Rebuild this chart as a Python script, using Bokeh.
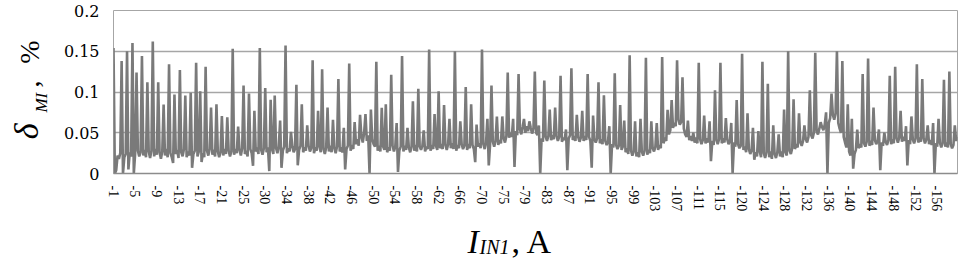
import math
from bokeh.plotting import figure
from bokeh.layouts import column, row
from bokeh.models import Range1d, FixedTicker, Label, NumeralTickFormatter
from bokeh.embed import file_html
from bokeh.resources import INLINE

# Category labels shown on the x axis (every 16th sample), I_IN1 in A
tick_labels = ["-1", "-5", "-9", "-13", "-17", "-21", "-25", "-30", "-34", "-38",
               "-42", "-46", "-50", "-54", "-58", "-62", "-66", "-70", "-75", "-79",
               "-83", "-87", "-91", "-95", "-99", "-103", "-107", "-111", "-115", "-120",
               "-124", "-128", "-132", "-136", "-140", "-144", "-148", "-152", "-156"]
label_step = 16

# delta_MI, % (one row = one labelled interval of 16 samples)
delta_mi = [
    0.154, 0.0, 0.004, 0.022, 0.018, 0.025, 0.138, 0.0, 0.020, 0.024, 0.150, 0.005, 0.026, 0.021, 0.160, 0.0,
    0.025, 0.124, 0.028, 0.021, 0.026, 0.144, 0.022, 0.029, 0.020, 0.112, 0.027, 0.019, 0.028, 0.162, 0.021, 0.030,
    0.023, 0.112, 0.026, 0.018, 0.027, 0.0845, 0.022, 0.030, 0.020, 0.134, 0.025, 0.020, 0.013, 0.097, 0.024, 0.029,
    0.019, 0.127, 0.026, 0.021, 0.030, 0.0956, 0.020, 0.027, 0.022, 0.099, 0.007, 0.024, 0.028, 0.136, 0.021, 0.027,
    0.101, 0.014, 0.025, 0.020, 0.131, 0.028, 0.022, 0.030, 0.081, 0.023, 0.029, 0.021, 0.085, 0.027, 0.020, 0.026,
    0.0706, 0.022, 0.030, 0.024, 0.069, 0.028, 0.021, 0.027, 0.153, 0.023, 0.030, 0.025, 0.0575, 0.029, 0.022, 0.031,
    0.108, 0.024, 0.028, 0.021, 0.098, 0.030, 0.025, 0.0095, 0.077, 0.027, 0.032, 0.024, 0.154, 0.029, 0.023, 0.031,
    0.105, 0.026, 0.032, 0.003, 0.0905, 0.030, 0.024, 0.0956, 0.031, 0.025, 0.033, 0.065, 0.007, 0.028, 0.033, 0.157,
    0.025, 0.031, 0.027, 0.051, 0.033, 0.026, 0.030, 0.109, 0.010, 0.029, 0.034, 0.085, 0.026, 0.032, 0.028, 0.059,
    0.034, 0.027, 0.031, 0.139, 0.025, 0.032, 0.028, 0.077, 0.033, 0.026, 0.128, 0.030, 0.024, 0.032, 0.081, 0.027,
    0.034, 0.026, 0.066, 0.031, 0.025, 0.033, 0.116, 0.027, 0.032, 0.026, 0.056, 0.005, 0.030, 0.034, 0.135, 0.028,
    0.035, 0.030, 0.063, 0.036, 0.042, 0.034, 0.072, 0.045, 0.038, 0.050, 0.073, 0.040, 0.047, 0.0, 0.0785, 0.042,
    0.036, 0.033, 0.137, 0.028, 0.034, 0.027, 0.0806, 0.033, 0.029, 0.085, 0.026, 0.032, 0.028, 0.121, 0.034, 0.027,
    0.033, 0.062, 0.002, 0.028, 0.033, 0.144, 0.027, 0.034, 0.029, 0.056, 0.032, 0.026, 0.033, 0.0885, 0.028, 0.035,
    0.027, 0.104, 0.033, 0.029, 0.034, 0.053, 0.027, 0.033, 0.030, 0.152, 0.028, 0.035, 0.030, 0.073, 0.034, 0.029,
    0.101, 0.031, 0.036, 0.030, 0.084, 0.035, 0.029, 0.036, 0.067, 0.031, 0.037, 0.030, 0.150, 0.028, 0.035, 0.031,
    0.064, 0.036, 0.030, 0.034, 0.106, 0.029, 0.036, 0.031, 0.085, 0.035, 0.030, 0.014, 0.060, 0.033, 0.037, 0.031,
    0.152, 0.036, 0.030, 0.038, 0.067, 0.010, 0.036, 0.108, 0.039, 0.033, 0.040, 0.070, 0.035, 0.041, 0.037, 0.070,
    0.043, 0.038, 0.046, 0.124, 0.044, 0.050, 0.045, 0.067, 0.008, 0.052, 0.047, 0.122, 0.054, 0.048, 0.057, 0.067,
    0.050, 0.058, 0.052, 0.064, 0.056, 0.049, 0.055, 0.125, 0.050, 0.047, 0.059, 0.0, 0.043, 0.039, 0.114, 0.045,
    0.040, 0.046, 0.0785, 0.041, 0.047, 0.042, 0.081, 0.046, 0.040, 0.045, 0.120, 0.039, 0.044, 0.041, 0.054, 0.004,
    0.043, 0.047, 0.129, 0.041, 0.046, 0.040, 0.072, 0.045, 0.039, 0.044, 0.077, 0.040, 0.046, 0.041, 0.122, 0.045,
    0.040, 0.007, 0.071, 0.042, 0.038, 0.043, 0.112, 0.037, 0.042, 0.036, 0.096, 0.040, 0.035, 0.039, 0.058, 0.0,
    0.036, 0.032, 0.123, 0.035, 0.030, 0.034, 0.084, 0.029, 0.033, 0.065, 0.026, 0.031, 0.024, 0.145, 0.028, 0.022,
    0.027, 0.064, 0.021, 0.026, 0.020, 0.067, 0.027, 0.022, 0.028, 0.142, 0.023, 0.029, 0.025, 0.064, 0.031, 0.027,
    0.033, 0.062, 0.029, 0.035, 0.031, 0.143, 0.037, 0.044, 0.040, 0.078, 0.048, 0.053, 0.090, 0.056, 0.062, 0.058,
    0.139, 0.066, 0.060, 0.063, 0.118, 0.055, 0.048, 0.045, 0.065, 0.041, 0.046, 0.040, 0.050, 0.038, 0.044, 0.037,
    0.136, 0.042, 0.036, 0.041, 0.071, 0.037, 0.043, 0.038, 0.064, 0.015, 0.040, 0.035, 0.102, 0.041, 0.036, 0.042,
    0.136, 0.037, 0.043, 0.038, 0.068, 0.042, 0.036, 0.040, 0.062, 0.0, 0.038, 0.033, 0.090, 0.036, 0.031, 0.034,
    0.147, 0.029, 0.033, 0.026, 0.074, 0.030, 0.024, 0.028, 0.056, 0.017, 0.026, 0.021, 0.052, 0.027, 0.020, 0.137,
    0.025, 0.019, 0.026, 0.110, 0.020, 0.027, 0.018, 0.059, 0.024, 0.019, 0.026, 0.048, 0.021, 0.027, 0.020, 0.0785,
    0.026, 0.022, 0.150, 0.028, 0.024, 0.031, 0.091, 0.030, 0.036, 0.032, 0.074, 0.038, 0.034, 0.040, 0.059, 0.042,
    0.038, 0.045, 0.102, 0.047, 0.043, 0.050, 0.148, 0.052, 0.048, 0.055, 0.063, 0.057, 0.053, 0.060, 0.075, 0.0,
    0.062, 0.068, 0.098, 0.072, 0.066, 0.074, 0.150, 0.062, 0.055, 0.050, 0.138, 0.045, 0.038, 0.032, 0.085, 0.027,
    0.022, 0.067, 0.006, 0.024, 0.029, 0.054, 0.031, 0.036, 0.032, 0.122, 0.037, 0.033, 0.039, 0.141, 0.034, 0.040,
    0.035, 0.081, 0.041, 0.036, 0.040, 0.054, 0.004, 0.038, 0.034, 0.050, 0.039, 0.035, 0.041, 0.120, 0.036, 0.042,
    0.037, 0.131, 0.043, 0.038, 0.044, 0.077, 0.039, 0.045, 0.040, 0.058, 0.010, 0.041, 0.036, 0.070, 0.042, 0.037,
    0.043, 0.134, 0.038, 0.044, 0.039, 0.116, 0.043, 0.037, 0.042, 0.059, 0.036, 0.041, 0.035, 0.062, 0.0, 0.037,
    0.033, 0.067, 0.038, 0.032, 0.037, 0.115, 0.033, 0.038, 0.032, 0.125, 0.036, 0.031, 0.035, 0.059, 0.040, 0.045,
]
sample = list(range(len(delta_mi)))
y_ticks = [0, 0.05, 0.1, 0.15, 0.2]

SERIF = "Liberation Serif"
H_MAIN = 214
W_LEFT = 60

# ---- main chart ----
p = figure(width=900, height=H_MAIN, output_backend="svg", toolbar_location=None,
           x_range=Range1d(0, len(delta_mi) - 1), y_range=Range1d(0, 0.2),
           min_border_left=46, min_border_right=3, min_border_top=10,
           min_border_bottom=38)
p.background_fill_color = "white"
p.border_fill_color = "white"
p.outline_line_color = "#a6a6a6"
p.outline_line_width = 1

p.line(sample, delta_mi, line_color="#7a7a7a", line_width=2.6)

p.xaxis.ticker = FixedTicker(ticks=[i * label_step for i in range(len(tick_labels))])
p.xaxis.major_label_overrides = {i * label_step: t for i, t in enumerate(tick_labels)}
p.xaxis.major_label_orientation = "vertical"
p.xaxis.major_label_text_font = SERIF
p.xaxis.major_label_text_font_size = "14px"
p.xaxis.major_label_text_color = "black"
p.xaxis.major_label_standoff = 6
p.xaxis.major_tick_line_color = None
p.xaxis.minor_tick_line_color = None
p.xaxis.axis_line_color = "#8c8c8c"
p.xaxis.axis_line_width = 1.5
p.xgrid.visible = False

p.yaxis.ticker = FixedTicker(ticks=y_ticks)
p.yaxis.formatter = NumeralTickFormatter(format="0.[00]")
p.yaxis.major_label_text_font = "DejaVu Serif"
p.yaxis.major_label_text_font_size = "16px"
p.yaxis.major_label_text_color = "black"
p.yaxis.major_label_standoff = 8
p.yaxis.major_tick_line_color = None
p.yaxis.minor_tick_line_color = None
p.yaxis.axis_line_color = None
p.ygrid.ticker = FixedTicker(ticks=y_ticks)
p.ygrid.grid_line_color = "#a6a6a6"
p.ygrid.grid_line_width = 1.5


def title_panel(width, height):
    f = figure(width=width, height=height, output_backend="svg", toolbar_location=None,
               x_range=Range1d(0, width), y_range=Range1d(0, height),
               x_axis_location=None, y_axis_location=None,
               min_border=0, min_border_left=0, min_border_right=0,
               min_border_top=0, min_border_bottom=0)
    f.grid.visible = False
    f.outline_line_color = None
    f.background_fill_color = "white"
    f.border_fill_color = "white"
    return f


def piece(f, x, y, text, size, style="normal", angle=0.0):
    # anchored at the centre line of the text (perpendicular to reading direction)
    f.add_layout(Label(x=x, y=y, text=text, text_font=SERIF, text_font_size=size,
                       text_font_style=style, text_color="black",
                       text_baseline="middle", text_align="left", angle=angle))


# ---- y axis title: delta_MI , % (reads bottom to top) ----
yt = title_panel(W_LEFT, H_MAIN)
piece(yt, 26, 45, "δ", "34px", "italic", math.pi / 2)
piece(yt, 41, 80, "MI", "17px", "italic", math.pi / 2)
piece(yt, 29, 113, ",", "28px", "normal", math.pi / 2)
piece(yt, 29, 144, "%", "28px", "normal", math.pi / 2)

# ---- x axis title: I_IN1, A ----
xt = title_panel(960, 48)
piece(xt, 467, 21.5, "I", "34px", "italic")
piece(xt, 479, 15.5, "IN1", "20px", "italic")
piece(xt, 511, 21.5, ", A", "34px")

layout = column(row(yt, p), xt)
open("out.html", "w").write(file_html(layout, INLINE))
